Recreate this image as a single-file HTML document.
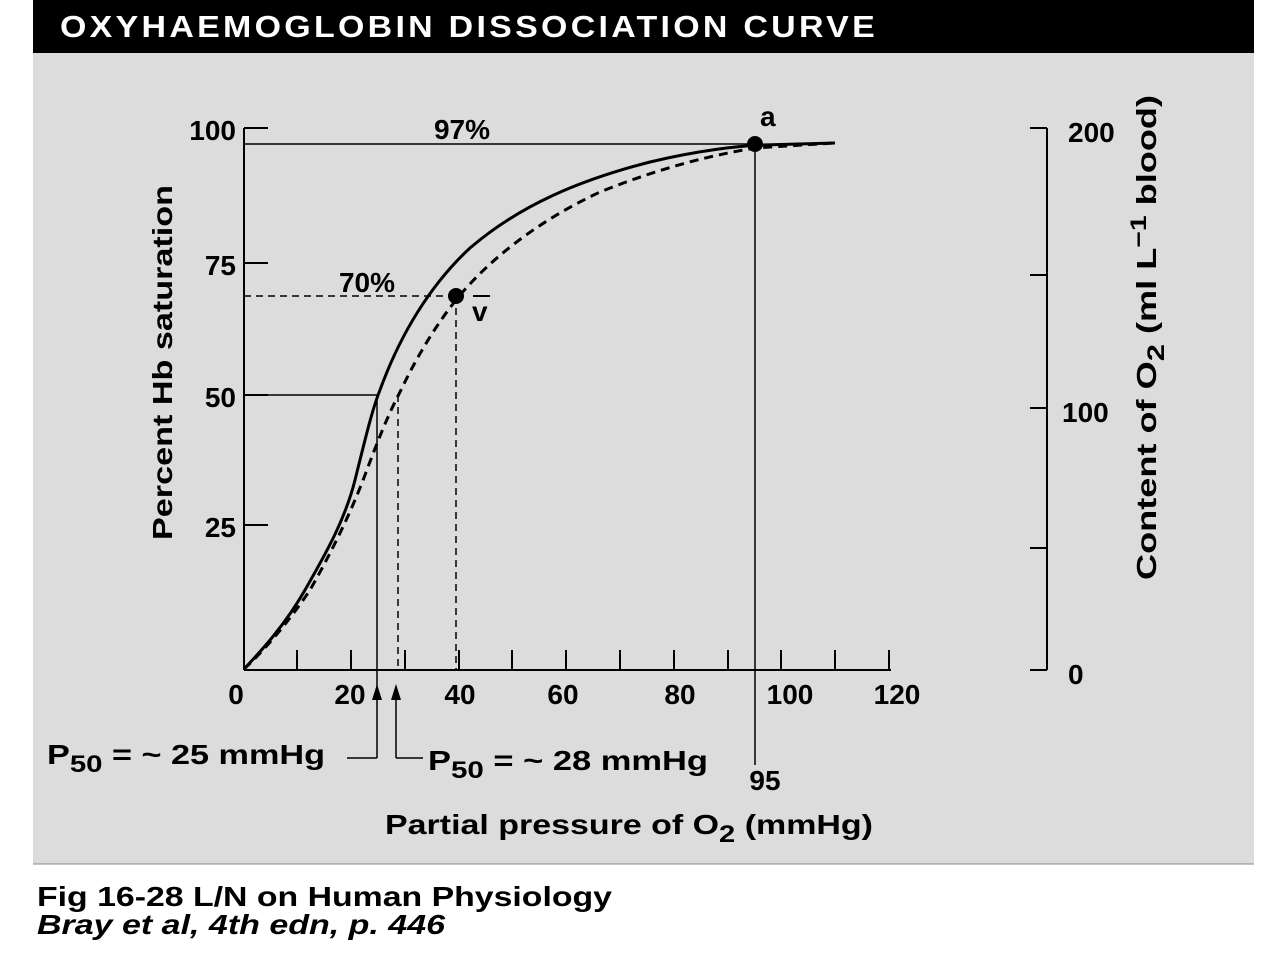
<!DOCTYPE html>
<html><head><style>
body{margin:0;background:#fff;}
svg{display:block;font-family:"Liberation Sans",Arial,sans-serif;font-weight:bold;}
</style></head><body>
<svg id="s" width="1286" height="956" xmlns="http://www.w3.org/2000/svg">
<rect x="33" y="0" width="1221" height="53" fill="#000"/>
<text x="60" y="37" fill="#fff" font-size="31" letter-spacing="3" textLength="818" lengthAdjust="spacingAndGlyphs">OXYHAEMOGLOBIN DISSOCIATION CURVE</text>
<rect x="33" y="53" width="1221" height="811" fill="#dcdcdc"/>
<line x1="33" y1="864" x2="1254" y2="864" stroke="#888" stroke-width="1"/>
<g stroke="#000" stroke-width="2" fill="none">
<line x1="244" y1="128" x2="244" y2="670"/>
<line x1="244" y1="128" x2="268" y2="128"/>
<line x1="244" y1="263" x2="268" y2="263"/>
<line x1="244" y1="395" x2="268" y2="395"/>
<line x1="244" y1="525" x2="268" y2="525"/>
<line x1="244" y1="670" x2="891" y2="670"/>
<line x1="297" y1="650" x2="297" y2="670"/><line x1="351" y1="650" x2="351" y2="670"/><line x1="405" y1="650" x2="405" y2="670"/><line x1="459" y1="650" x2="459" y2="670"/><line x1="512" y1="650" x2="512" y2="670"/><line x1="566" y1="650" x2="566" y2="670"/><line x1="620" y1="650" x2="620" y2="670"/><line x1="674" y1="650" x2="674" y2="670"/><line x1="728" y1="650" x2="728" y2="670"/><line x1="781" y1="650" x2="781" y2="670"/><line x1="835" y1="650" x2="835" y2="670"/><line x1="889" y1="650" x2="889" y2="670"/>
<line x1="1047" y1="128" x2="1047" y2="670"/>
<line x1="1030" y1="128" x2="1047" y2="128"/>
<line x1="1030" y1="275" x2="1047" y2="275"/>
<line x1="1030" y1="408" x2="1047" y2="408"/>
<line x1="1030" y1="548" x2="1047" y2="548"/>
<line x1="1030" y1="670" x2="1047" y2="670"/>
<line x1="244" y1="144" x2="755" y2="144" stroke-width="1.5"/>
<line x1="755" y1="144" x2="755" y2="765" stroke-width="1.5"/>
<line x1="244" y1="395" x2="377" y2="395" stroke-width="1.5"/>
<line x1="377" y1="395" x2="377" y2="758" stroke-width="1.5"/>
<line x1="347" y1="758" x2="377" y2="758" stroke-width="1.5"/>
<line x1="396" y1="695" x2="396" y2="758" stroke-width="1.5"/>
<line x1="396" y1="758" x2="423" y2="758" stroke-width="1.5"/>
<g stroke-dasharray="7,5" stroke-width="1.5">
<line x1="244" y1="296" x2="456" y2="296"/>
<line x1="456" y1="296" x2="456" y2="670"/>
<line x1="398" y1="395" x2="398" y2="670"/>
</g>
<path stroke-width="3" d="M244,669 C262,650 285,625 305,590 C325,555 345,520 355,480 C365,440 372,410 380,390 C400,335 430,285 470,248 C520,205 580,180 650,162 C700,150 740,146 760,145 L835,143"/>
<path stroke-width="3" stroke-dasharray="9,6" d="M244,669 C265,650 290,620 310,590 C330,555 350,515 365,475 C378,440 388,415 400,392 C420,350 440,320 456,300 C490,258 540,220 600,192 C650,172 700,157 755,148 L835,143"/>
</g>
<polygon points="377,684 372,700 382,700" fill="#000"/>
<polygon points="396,684 391,700 401,700" fill="#000"/>
<circle cx="755" cy="144" r="8" fill="#000"/>
<circle cx="456" cy="296" r="8" fill="#000"/>
<g font-size="28" fill="#000">
<text x="236" y="140" text-anchor="end">100</text>
<text x="236" y="275" text-anchor="end">75</text>
<text x="236" y="407" text-anchor="end">50</text>
<text x="236" y="537" text-anchor="end">25</text>
<text x="236" y="704" text-anchor="middle">0</text>
<text x="350" y="704" text-anchor="middle">20</text>
<text x="460" y="704" text-anchor="middle">40</text>
<text x="563" y="704" text-anchor="middle">60</text>
<text x="680" y="704" text-anchor="middle">80</text>
<text x="790" y="704" text-anchor="middle">100</text>
<text x="897" y="704" text-anchor="middle">120</text>
<text x="765" y="790" text-anchor="middle">95</text>
<text x="1068" y="142">200</text>
<text x="1062" y="422">100</text>
<text x="1068" y="684">0</text>
<text x="462" y="139" text-anchor="middle">97%</text>
<text x="367" y="292" text-anchor="middle">70%</text>
<text x="760" y="126">a</text>
<text x="472" y="321">v</text>
<text x="47" y="764" textLength="278" lengthAdjust="spacingAndGlyphs">P<tspan font-size="24" dy="8">50</tspan><tspan dy="-8"> = ~ 25 mmHg</tspan></text>
<text x="428" y="770" textLength="280" lengthAdjust="spacingAndGlyphs">P<tspan font-size="24" dy="8">50</tspan><tspan dy="-8"> = ~ 28 mmHg</tspan></text>
<text x="385" y="834" textLength="488" lengthAdjust="spacingAndGlyphs">Partial pressure of O<tspan font-size="24" dy="8">2</tspan><tspan dy="-8"> (mmHg)</tspan></text>
<text transform="translate(172,540) rotate(-90)" textLength="355" lengthAdjust="spacingAndGlyphs">Percent Hb saturation</text>
<text transform="translate(1156,580) rotate(-90)" textLength="485" lengthAdjust="spacingAndGlyphs">Content of O<tspan font-size="24" dy="8">2</tspan><tspan dy="-8"> (ml L</tspan><tspan font-size="22" dy="-10">−1</tspan><tspan dy="10"> blood)</tspan></text>
<text x="37" y="906" textLength="575" lengthAdjust="spacingAndGlyphs">Fig 16-28 L/N on Human Physiology</text>
<text x="37" y="934" font-style="italic" textLength="408" lengthAdjust="spacingAndGlyphs">Bray et al, 4th edn, p. 446</text>
</g>
<line x1="473" y1="296" x2="490" y2="296" stroke="#000" stroke-width="2"/>
</svg>
</body></html>
